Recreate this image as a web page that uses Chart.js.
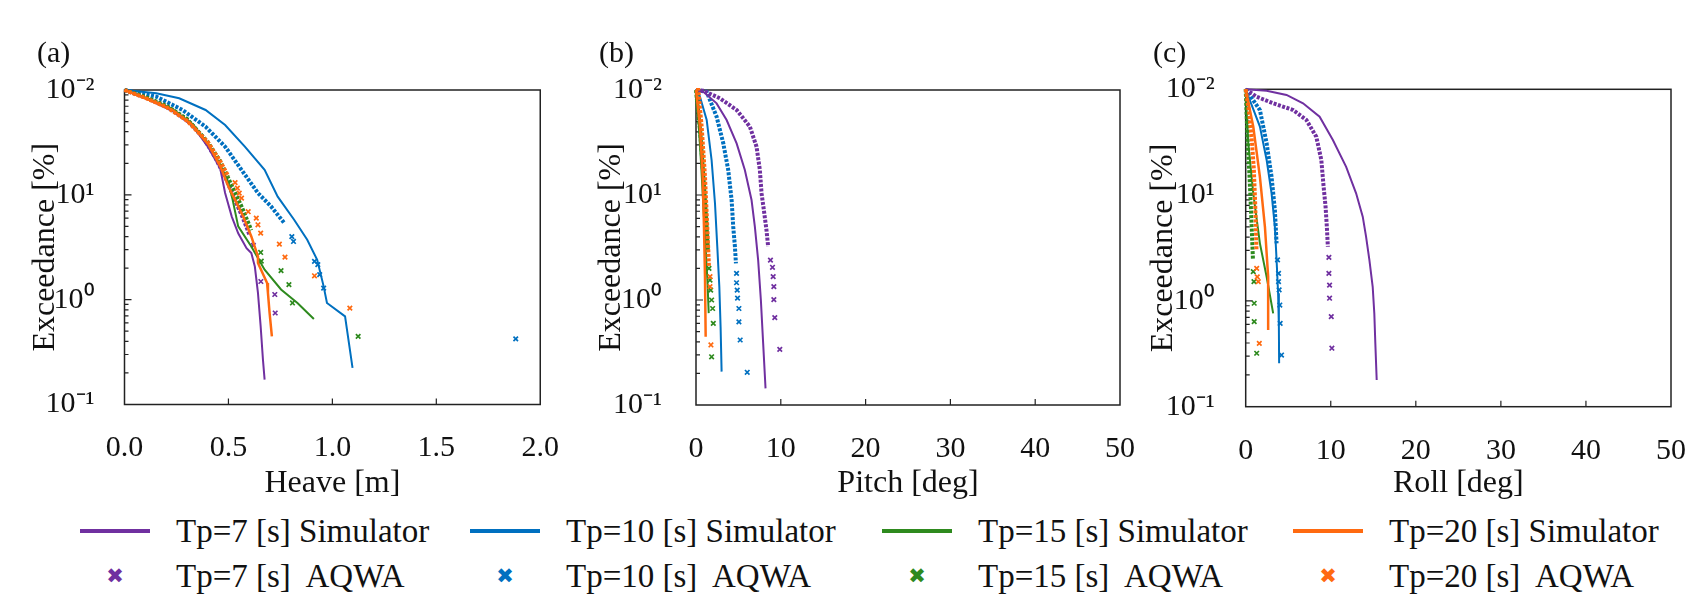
<!DOCTYPE html>
<html>
<head>
<meta charset="utf-8">
<script src="https://cdn.jsdelivr.net/npm/chart.js@4.4.1/dist/chart.umd.min.js"></script>
<style>
  body { margin: 0; width: 1707px; height: 594px; background: #fff; position: relative; overflow: hidden; }
  canvas { position: absolute; top: 0; }
  .txt { position: absolute; font-family: 'Liberation Serif', 'Times New Roman', serif; color: #111; white-space: pre; }
  .lab { font-size: 30px; line-height: 30px; }
  .leg { font-size: 33px; line-height: 34px; }
  .swatch { position: absolute; height: 4px; width: 70px; }
  .mark { position: absolute; font-family: 'DejaVu Sans', sans-serif; font-size: 21px; line-height: 22px; width: 24px; text-align: center; }
</style>
</head>
<body>
<canvas id="cHeave" width="580" height="505" style="left:0px"></canvas>
<canvas id="cPitch" width="580" height="505" style="left:580px"></canvas>
<canvas id="cRoll" width="577" height="505" style="left:1130px"></canvas>
<div class="txt lab" style="left:37px;top:37px">(a)</div>
<div class="txt lab" style="left:599px;top:37px">(b)</div>
<div class="txt lab" style="left:1153px;top:37px">(c)</div>
<div id="legend"></div>
<script>
// Exceedance curves: [x, exceedance %] pairs.
const yTickValues = [0.1, 1, 10, 100];
const yTickLabels = ['10⁻¹', '10⁰', '10¹', '10⁻²'];

const simLabels = ['Tp=7 [s] Simulator', 'Tp=10 [s] Simulator', 'Tp=15 [s] Simulator', 'Tp=20 [s] Simulator'];
const aqwaLabels = ['Tp=7 [s]  AQWA', 'Tp=10 [s]  AQWA', 'Tp=15 [s]  AQWA', 'Tp=20 [s]  AQWA'];
const seriesColors = ['#7030a0', '#0070c0', '#2e8a1e', '#ff6a10'];

// (a) Heave [m]
const heaveSim7 = [[0,100],[0.12,80],[0.23,63],[0.33,45],[0.40,29],[0.46,18],[0.484,10.4],[0.516,6.2],[0.547,4.3],[0.587,3.1],[0.61,2.78],[0.627,2.07],[0.642,1.16],[0.655,0.557],[0.666,0.268],[0.674,0.173]];
const heaveSim10 = [[0,100],[0.153,93],[0.263,83.4],[0.39,64.5],[0.484,46.4],[0.579,28.8],[0.674,17.3],[0.737,9.6],[0.816,5.78],[0.879,3.73],[0.927,2.4],[0.958,1.34],[0.974,0.93],[1.061,0.693],[1.097,0.224]];
const heaveSim15 = [[0,100],[0.12,82],[0.23,66],[0.33,47],[0.40,31],[0.46,19.5],[0.5,13],[0.52,9],[0.547,5.0],[0.61,3.22],[0.674,1.93],[0.753,1.25],[0.832,0.93],[0.911,0.654]];
const heaveSim20 = [[0,100],[0.121,80.3],[0.231,64.5],[0.326,46.4],[0.405,29.9],[0.461,18.6],[0.5,12],[0.532,8.96],[0.571,6.21],[0.61,4.01],[0.642,2.59],[0.642,2.24],[0.686,1.44],[0.69,1.16],[0.698,0.746],[0.709,0.447]];
const heaveAqwa7Band = [[0,100],[0.1,85],[0.2,70],[0.3,52],[0.38,35],[0.44,22],[0.49,14],[0.53,9],[0.57,6],[0.6,4.2]];
const heaveAqwa7Tail = [[0.62,3.3],[0.656,1.49],[0.723,1.12],[0.725,0.746]];
const heaveAqwa10Band = [[0,100],[0.153,86.4],[0.279,64.5],[0.39,44.7],[0.484,28.8],[0.563,17.3],[0.642,10.4],[0.705,7.75],[0.769,5.37]];
const heaveAqwa10Tail = [[0.805,4.0],[0.813,3.59],[0.914,2.32],[0.93,2.16],[0.939,1.73],[0.958,1.29],[1.882,0.423]];
const heaveAqwa15Band = [[0,100],[0.1,86],[0.2,71],[0.3,53],[0.4,32],[0.46,21],[0.51,13],[0.56,8],[0.61,4.6]];
const heaveAqwa15Tail = [[0.655,2.82],[0.658,2.33],[0.753,1.89],[0.791,1.39],[0.808,0.93],[1.124,0.447]];
const heaveAqwa20Band = [[0,100],[0.1,84],[0.2,69],[0.3,51],[0.4,32],[0.46,21],[0.5,15]];
const heaveAqwa20Tail = [[0.532,13.1],[0.543,11.6],[0.552,10.4],[0.563,9.3],[0.595,6.9],[0.634,6.0],[0.642,5.18],[0.655,4.32],[0.745,3.39],[0.772,2.55],[0.914,1.69],[1.084,0.83]];

// (b) Pitch [deg]
const pitchSim7 = [[0,100],[0.86,96],[2.43,74.6],[3.61,51.8],[4.79,31],[5.76,17.3],[6.55,8.96],[6.94,4.99],[7.33,2.4],[7.65,1.0],[7.92,0.386],[8.2,0.144]];
const pitchSim10 = [[0,100],[0.27,98],[1.26,51.8],[1.84,21.5],[2.24,8.3],[2.51,3.22],[2.75,1.34],[2.9,0.557],[3.02,0.208]];
const pitchSim15 = [[0,100],[0.3,50],[0.6,20],[0.9,7],[1.15,3],[1.35,1.5],[1.5,0.75]];
const pitchSim20 = [[0,100],[0.47,44.8],[0.79,15],[0.94,5],[1.06,1.67],[1.14,0.447]];
const pitchAqwa7Band = [[0,100],[0.86,98.5],[2.82,83.4],[4.79,64.5],[6.35,44.8],[7.14,28.8],[7.53,17.3],[7.73,10.4],[8.0,7.2],[8.31,4.64],[8.51,3.22]];
const pitchAqwa7Tail = [[8.78,2.4],[9.02,2.05],[9.1,1.67],[9.18,1.34],[9.18,1.01],[9.29,0.68],[9.88,0.339]];
const pitchAqwa10Band = [[0,100],[1.26,96],[2.43,55.7],[3.22,31],[3.8,17.3],[4.2,8.96],[4.39,4.99],[4.59,3.22],[4.71,2.23]];
const pitchAqwa10Tail = [[4.78,1.79],[4.78,1.46],[4.86,1.24],[4.9,1.04],[5.06,0.83],[5.06,0.62],[5.21,0.416],[6.04,0.205]];
const pitchAqwa15Band = [[0,100],[0.15,75],[0.5,40],[0.8,18],[1.05,9],[1.25,5],[1.4,3]];
const pitchAqwa15Tail = [[1.53,2.0],[1.65,1.55],[1.73,1.24],[1.84,1.0],[1.96,0.83],[2.04,0.6],[1.84,0.288]];
const pitchAqwa20Band = [[0,100],[0.27,100],[0.67,44.8],[1.06,15],[1.33,5],[1.53,2.07]];
const pitchAqwa20Tail = [[1.65,1.67],[1.65,1.34],[1.76,0.373]];

// (c) Roll [deg]
const rollSim7 = [[0,100],[2.46,97],[4.8,88.4],[6.74,73.8],[8.69,55.1],[10.25,33.2],[11.81,18.5],[12.98,10.4],[13.76,6.25],[14.15,4.05],[14.54,2.44],[14.93,1.36],[15.12,0.763],[15.24,0.397],[15.4,0.179]];
const rollSim10 = [[0,100],[1.67,44.4],[2.46,21.5],[3.04,10.4],[3.43,5.02],[3.63,2.44],[3.81,1.18],[3.9,0.57],[3.93,0.257]];
const rollSim15 = [[0,100],[0.1,64],[0.3,30.9],[0.89,10.4],[1.67,3.5],[2.46,1.69],[3.23,0.763]];
const rollSim20 = [[0,100],[0.89,44.4],[1.67,14.9],[2.26,5.02],[2.64,1.69],[2.64,0.53]];
const rollAqwa7Band = [[0,100],[1.29,85],[3.23,73.8],[5.57,63.7],[7.13,51.3],[8.3,35.6],[8.89,21.5],[9.16,12],[9.39,7.76],[9.54,5.02],[9.66,3.25]];
const rollAqwa7Tail = [[9.78,2.58],[9.78,1.82],[9.86,1.41],[9.86,1.06],[10.06,0.71],[10.13,0.357]];
const rollAqwa10Band = [[0,100],[1.67,63.7],[2.46,30.9],[3.04,14.9],[3.43,7.23],[3.63,3.5]];
const rollAqwa10Tail = [[3.74,2.44],[3.86,1.82],[3.86,1.52],[3.93,1.27],[4.01,0.914],[4.05,0.614],[4.21,0.308]];
const rollAqwa15Band = [[0,100],[0.1,60],[0.25,30],[0.45,15],[0.6,8],[0.75,4],[0.85,2.5]];
const rollAqwa15Tail = [[0.89,1.89],[0.97,1.52],[1.0,0.95],[1.0,0.636],[1.29,0.32]];
const rollAqwa20Band = [[0,100],[0.4,60],[0.7,35],[0.95,18],[1.1,9],[1.2,5],[1.27,3]];
const rollAqwa20Tail = [[1.29,2.03],[1.36,1.69],[1.48,1.52],[1.6,0.397]];

const serif = "'Liberation Serif', 'Times New Roman', serif";
const drawOrder = [3, 4, 2, 1]; // orange on top, then green, purple, blue

// Frame around the plot area plus inward tick marks (log minor ticks on y).
const frameTicks = {
  id: 'frameTicks',
  beforeDatasetsDraw(chart) {
    const { ctx, chartArea: a, scales: { x, y } } = chart;
    ctx.save();
    ctx.strokeStyle = '#222';
    ctx.lineWidth = 1.5;
    ctx.strokeRect(a.left, a.top, a.right - a.left, a.bottom - a.top);
    ctx.lineWidth = 1.2;
    ctx.beginPath();
    x.ticks.forEach((t) => {
      const px = x.getPixelForValue(t.value);
      if (px > a.left + 2 && px < a.right - 2) { ctx.moveTo(px, a.bottom); ctx.lineTo(px, a.bottom - 6); }
    });
    for (let e = -1; e < 2; e++) {
      for (let k = 1; k < 10; k++) {
        const v = k * Math.pow(10, e);
        if (v <= 0.1 || v >= 100) continue;
        const py = y.getPixelForValue(v);
        ctx.moveTo(a.left, py);
        ctx.lineTo(a.left + (k === 1 ? 7 : 4), py);
      }
    }
    ctx.stroke();
    ctx.restore();
  }
};

const pts = (arr) => arr.map(([x, y]) => ({ x: x, y: y }));

function buildDatasets(sims, bands, tails) {
  const ds = [];
  sims.forEach((s, i) => {
    const c = seriesColors[i];
    ds.push({ label: simLabels[i], data: pts(s), showLine: true, borderColor: c, backgroundColor: c,
      borderWidth: i === 3 ? 2.5 : 2, pointRadius: 0, order: drawOrder[i] * 3, clip: 10 });
    ds.push({ label: aqwaLabels[i], data: pts(bands[i]), showLine: true, borderColor: c, backgroundColor: c,
      borderWidth: 4, borderDash: [3, 1.5], pointRadius: 0, order: drawOrder[i] * 3 - 1, clip: 10 });
    ds.push({ label: aqwaLabels[i], data: pts(tails[i]), showLine: false, borderColor: c, backgroundColor: c,
      pointStyle: 'crossRot', pointRadius: 3.2, borderWidth: 1.7, order: drawOrder[i] * 3 - 2, clip: 10 });
  });
  return ds;
}

function makePanel(id, p, datasets) {
  return new Chart(document.getElementById(id), {
    type: 'scatter',
    data: { datasets: datasets },
    plugins: [frameTicks],
    options: {
      responsive: false,
      animation: false,
      layout: { padding: { left: 0, right: p.padRight, top: p.top, bottom: 0 } },
      plugins: { legend: { display: false }, tooltip: { enabled: false } },
      scales: {
        x: {
          type: 'linear', min: 0, max: p.xMax,
          grid: { display: false }, border: { display: false },
          ticks: { stepSize: p.xStep, autoSkip: false, maxRotation: 0, padding: 21,
            color: '#111', font: { family: serif, size: 30, lineHeight: 1 },
            callback: (v) => p.xFmt(v) },
          title: { display: true, text: p.xTitle, color: '#111',
            font: { family: serif, size: 32, lineHeight: 1 }, padding: { top: 0, bottom: 5 } },
          afterFit: (s) => { s.height = p.xAxisH; }
        },
        y: {
          type: 'logarithmic', min: 0.1, max: 100,
          grid: { display: false }, border: { display: false },
          afterBuildTicks: (s) => { s.ticks = yTickValues.map((v) => ({ value: v })); },
          ticks: { padding: p.yTickPad, color: '#111', font: { family: serif, size: 30, lineHeight: 1 },
            callback: (v, i) => yTickLabels[i] },
          title: { display: true, text: 'Exceedance [%]', color: '#111',
            font: { family: serif, size: 32, lineHeight: 1 }, padding: { top: p.yTitlePad, bottom: 0 } },
          afterFit: (s) => { s.width = p.yAxisW; }
        }
      }
    }
  });
}

makePanel('cHeave', { top: 90, padRight: 33.5, xAxisH: 100.5, yAxisW: 124.5, yTickPad: 22, yTitlePad: 30,
  xMax: 2, xStep: 0.5, xFmt: (v) => v.toFixed(1), xTitle: 'Heave [m]' },
  buildDatasets([heaveSim7, heaveSim10, heaveSim15, heaveSim20],
    [heaveAqwa7Band, heaveAqwa10Band, heaveAqwa15Band, heaveAqwa20Band],
    [heaveAqwa7Tail, heaveAqwa10Tail, heaveAqwa15Tail, heaveAqwa20Tail]));

makePanel('cPitch', { top: 90, padRight: 40, xAxisH: 100, yAxisW: 116, yTickPad: 26, yTitlePad: 16,
  xMax: 50, xStep: 10, xFmt: (v) => String(v), xTitle: 'Pitch [deg]' },
  buildDatasets([pitchSim7, pitchSim10, pitchSim15, pitchSim20],
    [pitchAqwa7Band, pitchAqwa10Band, pitchAqwa15Band, pitchAqwa20Band],
    [pitchAqwa7Tail, pitchAqwa10Tail, pitchAqwa15Tail, pitchAqwa20Tail]));

makePanel('cRoll', { top: 89.3, padRight: 35, xAxisH: 98.3, yAxisW: 115.7, yTickPad: 23, yTitlePad: 18,
  xMax: 50, xStep: 10, xFmt: (v) => String(v), xTitle: 'Roll [deg]' },
  buildDatasets([rollSim7, rollSim10, rollSim15, rollSim20],
    [rollAqwa7Band, rollAqwa10Band, rollAqwa15Band, rollAqwa20Band],
    [rollAqwa7Tail, rollAqwa10Tail, rollAqwa15Tail, rollAqwa20Tail]));

// Legend below the panels: 4 columns, simulator lines on top row, AQWA markers below.
const legendLineX = [80, 470, 882, 1293];
const legendTextX = [176, 566, 978, 1389];
const legendRowY = [531, 576];
const legend = document.getElementById('legend');
seriesColors.forEach((c, i) => {
  const sw = document.createElement('div');
  sw.className = 'swatch';
  sw.style.cssText = 'left:' + legendLineX[i] + 'px;top:' + (legendRowY[0] - 2) + 'px;background:' + c;
  legend.appendChild(sw);
  const mk = document.createElement('div');
  mk.className = 'mark';
  mk.textContent = '✖';
  mk.style.cssText = 'left:' + (legendLineX[i] + 23) + 'px;top:' + (legendRowY[1] - 11) + 'px;color:' + c;
  legend.appendChild(mk);
  [simLabels[i], aqwaLabels[i]].forEach((t, r) => {
    const d = document.createElement('div');
    d.className = 'txt leg';
    d.textContent = t;
    d.style.left = legendTextX[i] + 'px';
    d.style.top = (legendRowY[r] - 17) + 'px';
    legend.appendChild(d);
  });
});
</script>
</body>
</html>
